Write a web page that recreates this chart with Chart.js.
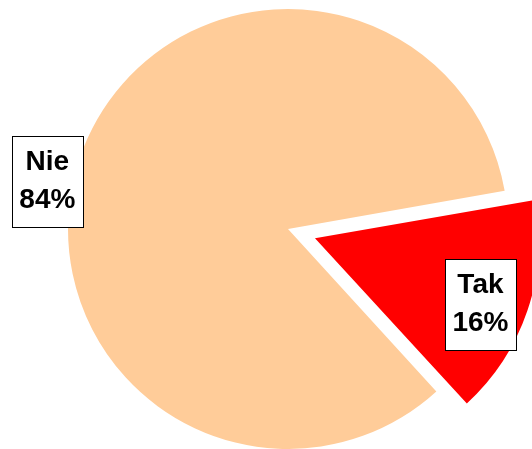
<!DOCTYPE html>
<html>
<head>
<meta charset="utf-8">
<script src="https://cdn.jsdelivr.net/npm/chart.js@4/dist/chart.umd.min.js"></script>
<style>
  html, body { margin: 0; padding: 0; background: #fff; }
  #pieChart { display: block; }
</style>
</head>
<body>
<canvas id="pieChart" width="532" height="449"></canvas>
<script>
// --- Data ---
const categories = ['Tak', 'Nie'];
const shares = [16, 84];          // percent
const shareLabels = ['16%', '84%'];

// where each boxed label sits, relative to its slice (angle turn in deg, distance in radii)
const labelPlacement = [
    { turn: 3, dist: 0.81 },
    { turn: -7.6, dist: 1.115 }
];

// Boxed two-line labels, like the Excel "best fit" ones
const boxLabels = {
    id: 'boxLabels',
    afterDatasetsDraw(chart) {
        const ctx = chart.ctx;
        const meta = chart.getDatasetMeta(0);
        ctx.save();
        ctx.font = 'bold 28px "Liberation Sans", Arial, sans-serif';
        ctx.textAlign = 'center';
        ctx.textBaseline = 'middle';

        meta.data.forEach((arc, i) => {
            const p = arc.getProps(['x', 'y', 'startAngle', 'endAngle', 'outerRadius'], true);
            const mid = (p.startAngle + p.endAngle) / 2;
            // slice translation from the offset option (chart.js moves by offset / 4)
            const shift = (arc.options.offset || 0) / 4;
            const cx = p.x + Math.cos(mid) * shift;
            const cy = p.y + Math.sin(mid) * shift;

            const place = labelPlacement[i];
            const a = mid + place.turn * Math.PI / 180;
            const lx = cx + Math.cos(a) * p.outerRadius * place.dist;
            const ly = cy + Math.sin(a) * p.outerRadius * place.dist;

            const lines = [categories[i], shareLabels[i]];
            const w = Math.max(...lines.map(t => ctx.measureText(t).width)) + 15;
            const lineH = 38;
            const h = lineH * 2 + 15;

            ctx.fillStyle = '#ffffff';
            ctx.fillRect(Math.round(lx - w / 2) + 0.5, Math.round(ly - h / 2) + 0.5, Math.round(w), Math.round(h));
            ctx.strokeStyle = '#000000';
            ctx.lineWidth = 1;
            ctx.strokeRect(Math.round(lx - w / 2) + 0.5, Math.round(ly - h / 2) + 0.5, Math.round(w), Math.round(h));

            ctx.fillStyle = '#000000';
            ctx.fillText(lines[0], lx, ly - lineH / 2);
            ctx.fillText(lines[1], lx, ly + lineH / 2);
        });
        ctx.restore();
    }
};

const ctxPie = document.getElementById('pieChart').getContext('2d');

new Chart(ctxPie, {
    type: 'pie',
    data: {
        labels: categories,
        datasets: [{
            data: shares,
            backgroundColor: ['#FF0000', '#FFCC99'],
            borderWidth: 0,
            offset: [114, 0],
            hoverOffset: 0
        }]
    },
    options: {
        responsive: false,
        animation: false,
        rotation: 80,
        radius: 220,
        layout: { padding: { left: 44, right: 0, top: 9, bottom: 0 } },
        plugins: {
            legend: { display: false },
            tooltip: { enabled: false }
        },
        events: []
    },
    plugins: [boxLabels]
});
</script>
</body>
</html>
